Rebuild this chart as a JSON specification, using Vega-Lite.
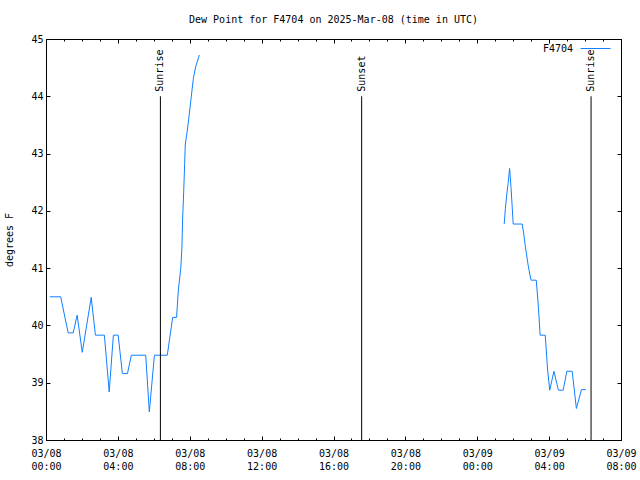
{
  "$schema": "https://vega.github.io/schema/vega-lite/v6.json",
  "width": 575,
  "height": 401,
  "autosize": {"type": "none"},
  "padding": {"left": 46, "top": 39, "right": 19, "bottom": 40},
  "background": "white",
  "title": {"text": "Dew Point for F4704 on 2025-Mar-08 (time in UTC)", "font": "DejaVu Sans Mono", "fontSize": 10, "fontWeight": "normal", "anchor": "middle", "offset": 8, "color": "black"},
  "config": {
    "view": {"stroke": "black", "strokeWidth": 1},
    "axis": {"grid": false, "domain": false, "labelFont": "DejaVu Sans Mono", "labelFontSize": 10, "labelColor": "black", "titleFont": "DejaVu Sans Mono", "titleFontSize": 10, "titleFontWeight": "normal", "titleColor": "black", "tickColor": "black", "tickWidth": 1},
    "legend": {"labelFont": "DejaVu Sans Mono", "labelFontSize": 10, "labelColor": "black"}
  },
  "resolve": {"axis": {"x": "independent", "y": "independent"}},
  "datasets": {
    "obs": [
      {"time": "2025-03-08T00:13:00Z", "dew": 40.5, "seg": 1, "series": "F4704"},
      {"time": "2025-03-08T00:49:00Z", "dew": 40.5, "seg": 1, "series": "F4704"},
      {"time": "2025-03-08T01:14:00Z", "dew": 39.87, "seg": 1, "series": "F4704"},
      {"time": "2025-03-08T01:31:00Z", "dew": 39.87, "seg": 1, "series": "F4704"},
      {"time": "2025-03-08T01:44:00Z", "dew": 40.18, "seg": 1, "series": "F4704"},
      {"time": "2025-03-08T02:01:00Z", "dew": 39.53, "seg": 1, "series": "F4704"},
      {"time": "2025-03-08T02:31:00Z", "dew": 40.49, "seg": 1, "series": "F4704"},
      {"time": "2025-03-08T02:45:00Z", "dew": 39.83, "seg": 1, "series": "F4704"},
      {"time": "2025-03-08T03:15:00Z", "dew": 39.83, "seg": 1, "series": "F4704"},
      {"time": "2025-03-08T03:31:00Z", "dew": 38.84, "seg": 1, "series": "F4704"},
      {"time": "2025-03-08T03:45:00Z", "dew": 39.83, "seg": 1, "series": "F4704"},
      {"time": "2025-03-08T04:01:00Z", "dew": 39.83, "seg": 1, "series": "F4704"},
      {"time": "2025-03-08T04:15:00Z", "dew": 39.16, "seg": 1, "series": "F4704"},
      {"time": "2025-03-08T04:32:00Z", "dew": 39.16, "seg": 1, "series": "F4704"},
      {"time": "2025-03-08T04:45:00Z", "dew": 39.48, "seg": 1, "series": "F4704"},
      {"time": "2025-03-08T05:33:00Z", "dew": 39.48, "seg": 1, "series": "F4704"},
      {"time": "2025-03-08T05:45:00Z", "dew": 38.49, "seg": 1, "series": "F4704"},
      {"time": "2025-03-08T06:02:00Z", "dew": 39.48, "seg": 1, "series": "F4704"},
      {"time": "2025-03-08T06:45:00Z", "dew": 39.48, "seg": 1, "series": "F4704"},
      {"time": "2025-03-08T07:03:00Z", "dew": 40.14, "seg": 1, "series": "F4704"},
      {"time": "2025-03-08T07:16:00Z", "dew": 40.14, "seg": 1, "series": "F4704"},
      {"time": "2025-03-08T07:22:00Z", "dew": 40.62, "seg": 1, "series": "F4704"},
      {"time": "2025-03-08T07:30:00Z", "dew": 41.0, "seg": 1, "series": "F4704"},
      {"time": "2025-03-08T07:34:00Z", "dew": 41.37, "seg": 1, "series": "F4704"},
      {"time": "2025-03-08T07:36:00Z", "dew": 41.84, "seg": 1, "series": "F4704"},
      {"time": "2025-03-08T07:40:00Z", "dew": 42.36, "seg": 1, "series": "F4704"},
      {"time": "2025-03-08T07:43:00Z", "dew": 42.83, "seg": 1, "series": "F4704"},
      {"time": "2025-03-08T07:45:00Z", "dew": 43.15, "seg": 1, "series": "F4704"},
      {"time": "2025-03-08T07:52:00Z", "dew": 43.41, "seg": 1, "series": "F4704"},
      {"time": "2025-03-08T07:58:00Z", "dew": 43.67, "seg": 1, "series": "F4704"},
      {"time": "2025-03-08T08:05:00Z", "dew": 43.99, "seg": 1, "series": "F4704"},
      {"time": "2025-03-08T08:12:00Z", "dew": 44.31, "seg": 1, "series": "F4704"},
      {"time": "2025-03-08T08:20:00Z", "dew": 44.52, "seg": 1, "series": "F4704"},
      {"time": "2025-03-08T08:32:00Z", "dew": 44.72, "seg": 1, "series": "F4704"},
      {"time": "2025-03-09T01:30:00Z", "dew": 41.77, "seg": 2, "series": "F4704"},
      {"time": "2025-03-09T01:34:00Z", "dew": 42.04, "seg": 2, "series": "F4704"},
      {"time": "2025-03-09T01:38:00Z", "dew": 42.26, "seg": 2, "series": "F4704"},
      {"time": "2025-03-09T01:43:00Z", "dew": 42.48, "seg": 2, "series": "F4704"},
      {"time": "2025-03-09T01:48:00Z", "dew": 42.74, "seg": 2, "series": "F4704"},
      {"time": "2025-03-09T01:53:00Z", "dew": 42.39, "seg": 2, "series": "F4704"},
      {"time": "2025-03-09T01:56:00Z", "dew": 42.13, "seg": 2, "series": "F4704"},
      {"time": "2025-03-09T02:00:00Z", "dew": 41.77, "seg": 2, "series": "F4704"},
      {"time": "2025-03-09T02:30:00Z", "dew": 41.77, "seg": 2, "series": "F4704"},
      {"time": "2025-03-09T02:35:00Z", "dew": 41.61, "seg": 2, "series": "F4704"},
      {"time": "2025-03-09T02:40:00Z", "dew": 41.4, "seg": 2, "series": "F4704"},
      {"time": "2025-03-09T02:50:00Z", "dew": 41.05, "seg": 2, "series": "F4704"},
      {"time": "2025-03-09T02:56:00Z", "dew": 40.88, "seg": 2, "series": "F4704"},
      {"time": "2025-03-09T03:00:00Z", "dew": 40.79, "seg": 2, "series": "F4704"},
      {"time": "2025-03-09T03:17:00Z", "dew": 40.79, "seg": 2, "series": "F4704"},
      {"time": "2025-03-09T03:23:00Z", "dew": 40.41, "seg": 2, "series": "F4704"},
      {"time": "2025-03-09T03:30:00Z", "dew": 39.83, "seg": 2, "series": "F4704"},
      {"time": "2025-03-09T03:47:00Z", "dew": 39.83, "seg": 2, "series": "F4704"},
      {"time": "2025-03-09T03:55:00Z", "dew": 39.22, "seg": 2, "series": "F4704"},
      {"time": "2025-03-09T04:02:00Z", "dew": 38.87, "seg": 2, "series": "F4704"},
      {"time": "2025-03-09T04:16:00Z", "dew": 39.2, "seg": 2, "series": "F4704"},
      {"time": "2025-03-09T04:31:00Z", "dew": 38.87, "seg": 2, "series": "F4704"},
      {"time": "2025-03-09T04:47:00Z", "dew": 38.87, "seg": 2, "series": "F4704"},
      {"time": "2025-03-09T04:59:00Z", "dew": 39.2, "seg": 2, "series": "F4704"},
      {"time": "2025-03-09T05:17:00Z", "dew": 39.2, "seg": 2, "series": "F4704"},
      {"time": "2025-03-09T05:31:00Z", "dew": 38.55, "seg": 2, "series": "F4704"},
      {"time": "2025-03-09T05:48:00Z", "dew": 38.88, "seg": 2, "series": "F4704"},
      {"time": "2025-03-09T06:02:00Z", "dew": 38.88, "seg": 2, "series": "F4704"}
    ],
    "events": [
      {"time": "2025-03-08T06:22:00Z", "label": "Sunrise"},
      {"time": "2025-03-08T17:34:00Z", "label": "Sunset"},
      {"time": "2025-03-09T06:20:00Z", "label": "Sunrise"}
    ]
  },
  "layer": [
    {
      "data": {"name": "obs"},
      "mark": {"type": "line", "strokeWidth": 1, "interpolate": "linear"},
      "encoding": {
        "x": {
          "field": "time", "type": "temporal",
          "scale": {"type": "utc", "domain": [{"year": 2025, "month": 3, "date": 8, "hours": 0, "utc": true}, {"year": 2025, "month": 3, "date": 9, "hours": 8, "utc": true}], "nice": false},
          "axis": {
            "orient": "bottom",
            "title": null,
            "values": [
              {"year": 2025, "month": 3, "date": 8, "hours": 0, "utc": true},
              {"year": 2025, "month": 3, "date": 8, "hours": 4, "utc": true},
              {"year": 2025, "month": 3, "date": 8, "hours": 8, "utc": true},
              {"year": 2025, "month": 3, "date": 8, "hours": 12, "utc": true},
              {"year": 2025, "month": 3, "date": 8, "hours": 16, "utc": true},
              {"year": 2025, "month": 3, "date": 8, "hours": 20, "utc": true},
              {"year": 2025, "month": 3, "date": 9, "hours": 0, "utc": true},
              {"year": 2025, "month": 3, "date": 9, "hours": 4, "utc": true},
              {"year": 2025, "month": 3, "date": 9, "hours": 8, "utc": true}
            ],
            "tickSize": -4,
            "labelPadding": 12,
            "labelLineHeight": 13,
            "labelOverlap": false, "labelFlush": false, "labelBound": false,
            "labelExpr": "[utcFormat(datum.value, '%m/%d'), utcFormat(datum.value, '%H:%M')]"
          }
        },
        "y": {
          "field": "dew", "type": "quantitative",
          "scale": {"domain": [38, 45], "nice": false, "zero": false},
          "axis": {"orient": "left", "title": "degrees F", "values": [38, 39, 40, 41, 42, 43, 44, 45], "format": "d", "tickSize": -4, "labelPadding": 7, "titlePadding": 16, "labelOverlap": false, "labelBound": false, "labelFlush": false}
        },
        "color": {
          "field": "series", "type": "nominal",
          "scale": {"range": ["#1080ff"]},
          "legend": {"orient": "none", "legendX": 534, "legendY": -6, "title": null, "padding": 0, "symbolType": "stroke", "symbolSize": 900, "symbolStrokeWidth": 1, "symbolStrokeColor": "#1080ff", "symbolOpacity": 1, "labelAlign": "right", "labelOffset": -38}
        },
        "detail": {"field": "seg", "type": "nominal"}
      }
    },
    {
      "data": {"name": "events"},
      "mark": {"type": "rule", "color": "black", "strokeWidth": 1},
      "encoding": {
        "x": {
          "field": "time", "type": "temporal",
          "axis": {
            "orient": "top", "title": null, "labels": false, "tickSize": -4,
            "values": [
              {"year": 2025, "month": 3, "date": 8, "hours": 0, "utc": true},
              {"year": 2025, "month": 3, "date": 8, "hours": 4, "utc": true},
              {"year": 2025, "month": 3, "date": 8, "hours": 8, "utc": true},
              {"year": 2025, "month": 3, "date": 8, "hours": 12, "utc": true},
              {"year": 2025, "month": 3, "date": 8, "hours": 16, "utc": true},
              {"year": 2025, "month": 3, "date": 8, "hours": 20, "utc": true},
              {"year": 2025, "month": 3, "date": 9, "hours": 0, "utc": true},
              {"year": 2025, "month": 3, "date": 9, "hours": 4, "utc": true},
              {"year": 2025, "month": 3, "date": 9, "hours": 8, "utc": true}
            ]
          }
        },
        "y": {"datum": 38, "type": "quantitative", "axis": {"orient": "right", "title": null, "labels": false, "values": [38, 39, 40, 41, 42, 43, 44, 45], "tickSize": -4}},
        "y2": {"datum": 44}
      }
    },
    {
      "data": {"name": "events"},
      "mark": {"type": "text", "angle": 270, "align": "left", "baseline": "middle", "font": "DejaVu Sans Mono", "fontSize": 10, "color": "black"},
      "encoding": {
        "x": {"field": "time", "type": "temporal", "axis": null},
        "y": {"datum": 44.08, "type": "quantitative", "axis": null},
        "text": {"field": "label"}
      }
    },
    {
      "data": {"name": "obs"},
      "mark": {"type": "point", "opacity": 0},
      "encoding": {
        "x": {"field": "time", "type": "temporal", "axis": {"orient": "bottom", "title": null, "labels": false, "tickCount": 32, "tickSize": -2}},
        "y": {"field": "dew", "type": "quantitative", "axis": null}
      }
    },
    {
      "data": {"name": "obs"},
      "mark": {"type": "point", "opacity": 0},
      "encoding": {
        "x": {"field": "time", "type": "temporal", "axis": {"orient": "top", "title": null, "labels": false, "tickCount": 32, "tickSize": -2}},
        "y": {"field": "dew", "type": "quantitative", "axis": null}
      }
    }
  ]
}
